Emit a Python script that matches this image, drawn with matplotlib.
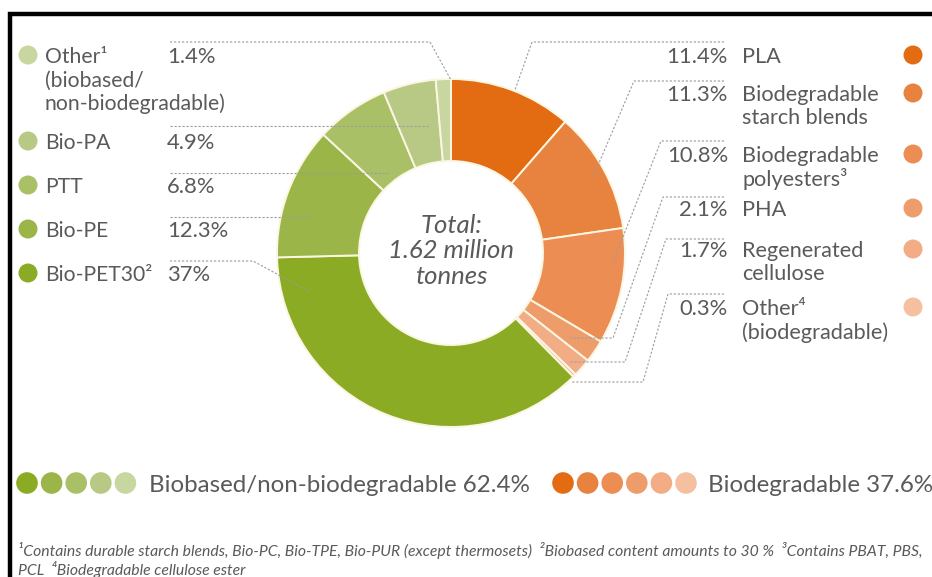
import matplotlib.pyplot as plt
from matplotlib.patches import Circle

plt.rcParams['font.family'] = ['Lato', 'DejaVu Sans']

W, H = 932, 577

# biodegradable group, clockwise from 12 o'clock
degr_names = ["PLA", "Biodegradable\nstarch blends", "Biodegradable\npolyesters³",
              "PHA", "Regenerated\ncellulose", "Other⁴\n(biodegradable)"]
degr_share = [11.4, 11.3, 10.8, 2.1, 1.7, 0.3]
degr_colors = ["#e36c12", "#e8823f", "#ec8e54", "#ef9c6b", "#f2ad86", "#f5c09f"]

# biobased / non-biodegradable group, continuing clockwise
nondeg_names = ["Bio-PET30²", "Bio-PE", "PTT", "Bio-PA",
                "Other¹\n(biobased/\nnon-biodegradable)"]
nondeg_share = [37.0, 12.3, 6.8, 4.9, 1.4]
nondeg_colors = ["#8aab23", "#9bb548", "#aac067", "#b7c984", "#c8d6a0"]

group_names = ["Biobased/non-biodegradable", "Biodegradable"]
center_text = "Total:\n1.62 million\ntonnes"
footnotes = ["¹Contains durable starch blends, Bio-PC, Bio-TPE, Bio-PUR (except thermosets)  "
             "²Biobased content amounts to 30 %  ³Contains PBAT, PBS,",
             "PCL  ⁴Biodegradable cellulose ester"]

TXT = "#5a5a5a"
LEAD = "#9c9c9c"
CX, CY, R_OUT, RING = 451, 253, 174, 82

# layout (pixel positions, y measured from the top)
left_rows = [273, 229, 185, 141, 55]
right_rows = [55, 93, 154, 208, 249, 307]
left_paths = [
    [(170, 261), (253, 261), (310, 292)],
    [(170, 217), (312, 217)],
    [(170, 173), (388, 173)],
    [(170, 126), (428, 126)],
    [(170, 42), (430, 42), (451, 80)],
]
right_paths = [
    [(724, 42), (532, 42), (515, 90)],
    [(724, 81), (634, 81), (593, 177)],
    [(724, 141), (661, 141), (613, 262)],
    [(724, 197), (663, 197), (613, 338), (570, 338)],
    [(724, 239), (666, 239), (625, 362), (570, 362)],
    [(724, 294), (668, 294), (643, 382), (572, 382)],
]


def P(x, y):
    return x, H - y


fig = plt.figure(figsize=(W / 100, H / 100), dpi=100)
ax = fig.add_axes([0, 0, 1, 1])

ax.pie(degr_share + nondeg_share, colors=degr_colors + nondeg_colors,
       startangle=90, counterclock=False, radius=R_OUT, center=P(CX, CY),
       wedgeprops=dict(width=RING, edgecolor="#fbf6e2", linewidth=1.4))
ax.set_xlim(0, W)
ax.set_ylim(0, H)
ax.set_aspect("equal")
ax.axis("off")

cx, cy = P(CX, CY)
ax.text(cx, cy + 2, center_text, ha="center", va="center", fontsize=18.5,
        style="italic", color=TXT, linespacing=1.15)

FS = 15.2
LINE = 23.5


def leader(path):
    xs = [p[0] for p in path]
    ys = [H - p[1] for p in path]
    ax.plot(xs, ys, color=LEAD, lw=0.8, ls=(0, (2, 1.6)), zorder=1)


for name, share, col, y, path in zip(nondeg_names, nondeg_share, nondeg_colors,
                                     left_rows, left_paths):
    ax.add_patch(Circle(P(28, y), 9.5, color=col, lw=0))
    for i, line in enumerate(name.split("\n")):
        ax.text(*P(45, y + i * LINE), line, ha="left", va="center_baseline",
                fontsize=FS, color=TXT)
    ax.text(*P(167, y), f"{share:g}%", ha="left", va="center_baseline",
            fontsize=FS + 0.6, color=TXT)
    leader(path)

for name, share, col, y, path in zip(degr_names, degr_share, degr_colors,
                                     right_rows, right_paths):
    ax.add_patch(Circle(P(913, y), 9.5, color=col, lw=0))
    for i, line in enumerate(name.split("\n")):
        ax.text(*P(742, y + i * LINE), line, ha="left", va="center_baseline",
                fontsize=FS + 0.4, color=TXT)
    ax.text(*P(728, y), f"{share:g}%", ha="right", va="center_baseline",
            fontsize=FS + 0.6, color=TXT)
    leader(path)

# group legend along the bottom
for i, col in enumerate(nondeg_colors):
    ax.add_patch(Circle(P(27 + i * 24.6, 483), 10.8, color=col, lw=0))
for i, col in enumerate(degr_colors):
    ax.add_patch(Circle(P(563 + i * 24.6, 483), 10.8, color=col, lw=0))
ax.text(*P(149, 483), f"{group_names[0]} {sum(nondeg_share):.1f}%", ha="left",
        va="center_baseline", fontsize=17.4, color=TXT)
ax.text(*P(708, 483), f"{group_names[1]} {sum(degr_share):.1f}%", ha="left",
        va="center_baseline", fontsize=17.4, color=TXT)

for i, line in enumerate(footnotes):
    ax.text(*P(18, 549 + i * 19), line, ha="left", va="center_baseline",
            fontsize=11.3, style="italic", color=TXT)

# black frame on top and left, as in the screenshot
ax.plot([10, 10, W], [0, H - 14, H - 14], color="black", lw=3.2,
        solid_joinstyle="miter", zorder=5)

fig.savefig("out.png", dpi=100, facecolor="white")
